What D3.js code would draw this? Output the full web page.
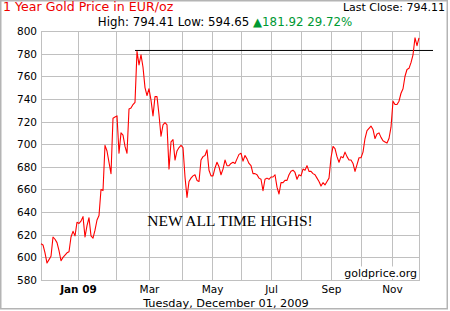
<!DOCTYPE html>
<html>
<head>
<meta charset="utf-8">
<script src="https://cdn.jsdelivr.net/npm/d3@7"></script>
<style>
  body { margin: 0; background: #fff; }
  svg { display: block; font-family: 'DejaVu Sans', Verdana, sans-serif; }
</style>
</head>
<body>
<div id="chart"></div>
<script>
// one value per sample, Dec 1 2008 -> Dec 1 2009 (EUR/oz)
const prices = [
  612, 611, 604, 595, 598, 601, 618, 616, 613, 606, 597, 600, 602, 604, 605, 618, 623, 619, 631, 630,
  632, 636, 618, 628, 635, 619, 617, 624, 633, 637, 660, 659, 699, 694, 684, 674, 723, 724, 725, 692,
  710, 708, 698, 692, 731, 732, 735, 737, 782, 770, 779, 768, 750, 743, 749, 739, 725, 742, 742, 726,
  707, 717, 719, 717, 678, 702, 704, 686, 694, 697, 699, 697, 671, 653, 667, 670, 672, 673, 668, 667,
  686, 689, 690, 695, 677, 672, 672, 679, 684, 680, 673, 678, 686, 681, 681, 683, 684, 683, 687, 691,
  692, 685, 690, 687, 683, 681, 674, 674, 673, 670, 669, 659, 669, 670, 669, 671, 671, 673, 662, 656,
  666, 666, 668, 668, 673, 676, 677, 675, 669, 673, 672, 678, 677, 681, 676, 676, 674, 673, 670, 667,
  663, 666, 664, 667, 670, 688, 698, 696, 689, 684, 689, 688, 693, 689, 686, 686, 683, 676, 682, 688,
  688, 693, 705, 712, 714, 716, 713, 705, 709, 710, 706, 703, 702, 701, 705, 715, 738, 735, 735, 738,
  745, 749, 760, 766, 767, 772, 779, 794, 787, 794
];

// month starts, as positions in the sample index
const monthTicks = [18.5, 37.5, 54, 70.5, 85.5, 100, 115, 130, 145, 160, 175.5];
const monthLabels = ['Jan 09', '', 'Mar', '', 'May', '', 'Jul', '', 'Sep', '', 'Nov'];
const priceTicks = [580, 600, 620, 640, 660, 680, 700, 720, 740, 760, 780, 800];

const title = '1 Year Gold Price in EUR/oz';
const high = '794.41';
const low = '594.65';
const change = '181.92';
const changePct = '29.72%';
const lastClose = '794.11';
const prevHigh = 782.8;
const dateLabel = 'Tuesday, December 01, 2009';

const W = 450, H = 311;
const margin = { top: 31, right: 31, bottom: 31, left: 41 };
const width = W - margin.left - margin.right;
const height = H - margin.top - margin.bottom;

const svg = d3.select('#chart')
  .append('svg')
  .attr('width', W)
  .attr('height', H);

// outer frame
svg.append('rect')
  .attr('x', 0.75).attr('y', 0.75)
  .attr('width', W - 3.5).attr('height', H - 3)
  .attr('fill', 'none')
  .attr('stroke', '#b4b4b4')
  .attr('stroke-width', 1.5);

// header
svg.append('text')
  .attr('x', 3).attr('y', 11)
  .attr('font-size', 12.6)
  .attr('fill', '#ee0000')
  .text(title);

svg.append('text')
  .attr('x', 445).attr('y', 11)
  .attr('text-anchor', 'end')
  .attr('font-size', 11)
  .attr('fill', '#000')
  .text('Last Close: ' + lastClose);

const sub = svg.append('text')
  .attr('x', 225).attr('y', 26)
  .attr('text-anchor', 'middle')
  .attr('font-size', 11.8)
  .attr('fill', '#000');
sub.append('tspan').text(`High: ${high} Low: ${low} `);
sub.append('tspan').attr('fill', '#009933').text('\u25B2' + change + ' ' + changePct);

const container = svg.append('g')
  .attr('transform', `translate(${margin.left},${margin.top})`);

const x = d3.scaleLinear().domain([0, prices.length - 1]).range([0, width]);
const y = d3.scaleLinear().domain([580, 800]).range([height, 0]);
const yGrid = y.copy().interpolate(d3.interpolateRound);

const yAxis = container.append('g')
  .call(d3.axisLeft(yGrid).tickValues(priceTicks).tickSize(-width).tickPadding(4));

const xAxis = container.append('g')
  .attr('transform', `translate(0,${height})`)
  .call(d3.axisBottom(x).tickValues(monthTicks).tickSize(-height).tickPadding(6)
    .tickFormat((d, i) => monthLabels[i]));

[xAxis, yAxis].forEach(ax => {
  ax.select('.domain').remove();
  ax.selectAll('.tick line').attr('stroke', '#c0c0c0');
  ax.selectAll('.tick text')
    .attr('fill', '#000')
    .attr('font-size', 10.5)
    .attr('font-family', "'DejaVu Sans', Verdana, sans-serif");
});
xAxis.selectAll('.tick text').attr('font-weight', (d, i) => i === 0 ? 'bold' : 'normal');

container.append('rect')
  .attr('x', 0.5).attr('y', 0.5)
  .attr('width', width).attr('height', height)
  .attr('fill', 'none')
  .attr('stroke', '#c0c0c0');

// watermark on a white patch
const wmBox = container.append('rect').attr('fill', '#fff');
const wm = container.append('text')
  .attr('x', width - 2).attr('y', height - 3.5)
  .attr('text-anchor', 'end')
  .attr('font-size', 11)
  .attr('fill', '#000')
  .text('goldprice.org');
const bb = wm.node().getBBox();
wmBox.attr('x', bb.x - 1).attr('y', bb.y)
  .attr('width', bb.width + 2).attr('height', bb.height - 1);

container.append('text')
  .attr('x', 189).attr('y', 195)
  .attr('text-anchor', 'middle')
  .attr('font-family', "'Liberation Serif', 'Times New Roman', serif")
  .attr('font-size', 15.5)
  .attr('fill', '#000')
  .text('NEW ALL TIME HIGHS!');

// previous all-time high marker
const peakIdx = d3.maxIndex(prices.slice(0, 100));
container.append('line')
  .attr('x1', x(peakIdx) - 2).attr('x2', width + 14)
  .attr('y1', y(prevHigh)).attr('y2', y(prevHigh))
  .attr('stroke', '#000')
  .attr('stroke-width', 1);

const line = d3.line()
  .x((d, i) => x(i))
  .y(d => y(d));

container.append('path')
  .datum(prices)
  .attr('d', line)
  .attr('fill', 'none')
  .attr('stroke', '#ff0000')
  .attr('stroke-width', 1.1)
  .attr('stroke-linejoin', 'round');

svg.append('text')
  .attr('x', 226).attr('y', 307)
  .attr('text-anchor', 'middle')
  .attr('font-size', 11.3)
  .attr('fill', '#000')
  .text(dateLabel);
</script>
</body>
</html>
